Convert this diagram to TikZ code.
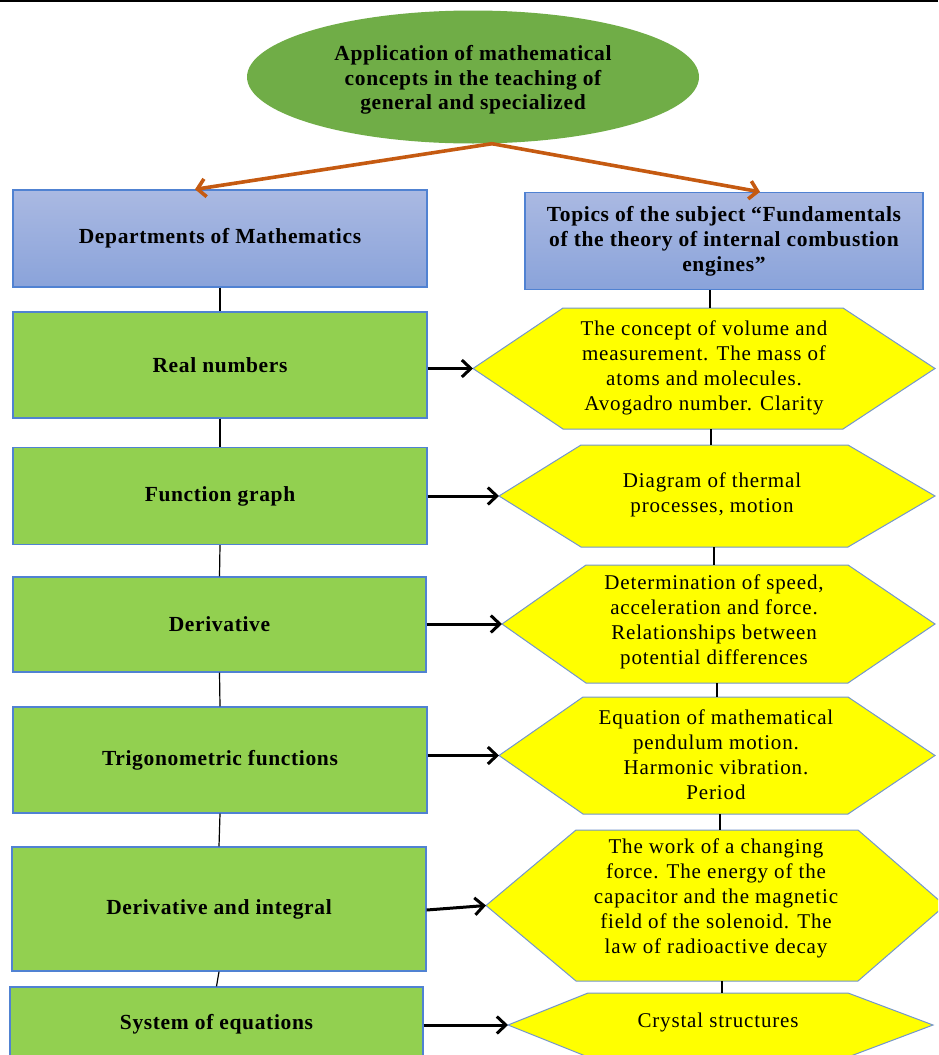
\documentclass[tikz,border=0pt]{standalone}
\usepackage{fontspec}
\setmainfont{Liberation Serif}[LetterSpace=3]
\newfontfamily\hexfont{Liberation Serif}[LetterSpace=4]
\usetikzlibrary{arrows.meta,shapes.geometric}
\definecolor{ellgreen}{HTML}{70AD47}
\definecolor{arrorange}{HTML}{C55A11}
\definecolor{boxblueT}{HTML}{AAB9E2}
\definecolor{boxblueB}{HTML}{8AA3DA}
\definecolor{edgeblue}{HTML}{5082D2}
\definecolor{leafgreen}{HTML}{92D050}
\definecolor{hexedge}{HTML}{7396CC}
\definecolor{hexfill}{HTML}{FFFF00}
\tikzset{
  headbox/.style={draw=edgeblue, line width=1.3pt, top color=boxblueT, bottom color=boxblueB,
    font=\fontsize{21.5}{25}\selectfont\bfseries, align=center, inner sep=0pt},
  leafbox/.style={draw=edgeblue, line width=1.3pt, fill=leafgreen,
    font=\fontsize{21.5}{25}\selectfont\bfseries, align=center, inner sep=0pt},
  hexa/.style={draw=hexedge, line width=1pt, fill=hexfill},
  hextext/.style={font=\hexfont\fontsize{21}{25}\selectfont, align=center, inner sep=0pt},
  link/.style={draw=black, line width=1.2pt},
  flow/.style={draw=black, line width=3pt, -{Straight Barb[length=9pt,width=17pt,line width=3pt]}},
  branch/.style={draw=arrorange, line width=3.6pt, -{Straight Barb[length=8pt,width=18pt,line width=3.6pt]}}
}
\begin{document}
\begin{tikzpicture}[x=1pt,y=-1pt]
\useasboundingbox (0,0) rectangle (938,1055);
\clip (0,0) rectangle (938,1055);
\fill[white] (0,0) rectangle (938,1055);
\draw[black, line width=2.5pt] (0,1) -- (938,1);

% root ellipse
\node[ellipse, fill=ellgreen, minimum width=452pt, minimum height=133pt, inner sep=0pt] (ell) at (473,77) {};
\node[font=\fontsize{21.5}{24.5}\selectfont\bfseries, align=center, inner sep=0pt] (elltext) at (473,80)
  {Application of mathematical\\concepts in the teaching of\\general and specialized};

% header boxes
\node[headbox, minimum width=414pt, minimum height=97pt] (b0) at (220,238.5) {Departments of Mathematics};
\node[headbox, minimum width=398pt, minimum height=97pt] (tb) at (724,241)
  {Topics of the subject “Fundamentals\\of the theory of internal combustion\\engines”};

\draw[branch] ([xshift=19pt]ell.south) -- ([xshift=-25pt]b0.north);
\draw[branch] ([xshift=19pt]ell.south) -- ([xshift=36pt]tb.north);

% left column
\node[leafbox, minimum width=414pt, minimum height=106pt] (b1) at (220,365) {Real numbers};
\node[leafbox, minimum width=414pt, minimum height=97pt] (b2) at (220,496) {Function graph};
\node[leafbox, minimum width=413pt, minimum height=95pt] (b3) at (219.5,624.5) {Derivative};
\node[leafbox, minimum width=414pt, minimum height=106pt] (b4) at (220,760) {Trigonometric functions};
\node[leafbox, minimum width=414pt, minimum height=124pt] (b5) at (219,909) {Derivative and integral};
\node[leafbox, minimum width=413pt, minimum height=74pt] (b6) at (216.5,1024) {System of equations};

\draw[link] (b0.south) -- (b1.north);
\draw[link] (b1.south) -- (b2.north);
\draw[link] (b2.south) -- (b3.north);
\draw[link] (b3.south) -- (b4.north);
\draw[link] (b4.south) -- (b5.north);
\draw[link] (b5.south) -- (b6.north);

% right column hexagons
\path[hexa] (473,368.5) -- (563,308) -- (843,308) -- (935,368.5) -- (843,429) -- (563,429) -- cycle;
\coordinate (h1w) at (473,368.5); \coordinate (h1n) at (710,308); \coordinate (h1s) at (711,429);
\node[hextext] (h1) at (704,368) {The concept of volume and\\measurement. The mass of\\atoms and molecules.\\Avogadro number. Clarity};

\path[hexa] (499,496) -- (581,445) -- (848,445) -- (935,496) -- (848,547) -- (581,547) -- cycle;
\coordinate (h2w) at (499,496); \coordinate (h2n) at (711,445); \coordinate (h2s) at (714,547);
\node[hextext] (h2) at (712,495) {Diagram of thermal\\processes, motion};

\path[hexa] (502,624) -- (586,565) -- (848,565) -- (935,624) -- (848,683) -- (586,683) -- cycle;
\coordinate (h3w) at (502,624); \coordinate (h3n) at (714,565); \coordinate (h3s) at (717,683);
\node[hextext] (h3) at (714,622) {Determination of speed,\\acceleration and force.\\Relationships between\\potential differences};

\path[hexa] (499,755.5) -- (583,697) -- (848,697) -- (935,755.5) -- (848,814) -- (583,814) -- cycle;
\coordinate (h4w) at (499,755.5); \coordinate (h4n) at (717,697); \coordinate (h4s) at (720,814);
\node[hextext] (h4) at (716,755) {Equation of mathematical\\pendulum motion.\\Harmonic vibration.\\Period};

\path[hexa] (486,905.5) -- (576,830) -- (858,830) -- (945,905.5) -- (858,981) -- (576,981) -- cycle;
\coordinate (h5w) at (486,905.5); \coordinate (h5n) at (720,830); \coordinate (h5s) at (722,981);
\node[hextext] (h5) at (716,898) {The work of a changing\\force. The energy of the\\capacitor and the magnetic\\field of the solenoid. The\\law of radioactive decay};

\path[hexa] (508,1025) -- (588,993) -- (848,993) -- (933,1025) -- (848,1057) -- (588,1057) -- cycle;
\coordinate (h6w) at (508,1025); \coordinate (h6n) at (722,993);
\node[hextext] (h6) at (718,1022) {Crystal structures};

\draw[link] (tb.south -| h1n) -- (h1n);
\draw[link] (h1s) -- (h2n);
\draw[link] (h2s) -- (h3n);
\draw[link] (h3s) -- (h4n);
\draw[link] (h4s) -- (h5n);
\draw[link] (h5s) -- (h6n);

% arrows
\draw[flow] (b1.east |- h1w) -- (h1w);
\draw[flow] (b2.east |- h2w) -- (h2w);
\draw[flow] (b3.east |- h3w) -- (h3w);
\draw[flow] (b4.east |- h4w) -- (h4w);
\draw[flow] ([yshift=-1pt]b5.east) -- (h5w);
\draw[flow] (b6.east |- h6w) -- (h6w);
\end{tikzpicture}
\end{document}
